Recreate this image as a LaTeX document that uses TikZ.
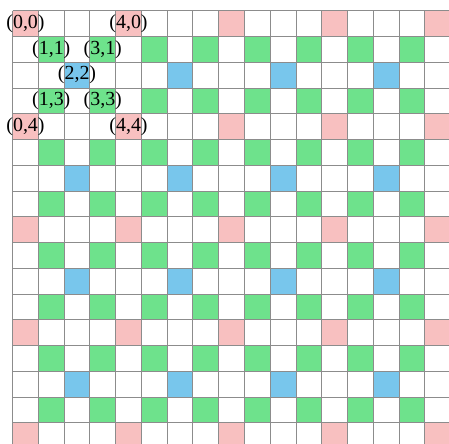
\documentclass[tikz,border=0pt]{standalone}
\usepackage{fontspec}
\setmainfont{Liberation Serif}
\usepackage{xcolor}
\definecolor{cellpink}{RGB}{248,192,192}
\definecolor{cellgreen}{RGB}{110,226,140}
\definecolor{cellblue}{RGB}{120,198,236}
\tikzset{
  pinkcell/.style={fill=cellpink},
  greencell/.style={fill=cellgreen},
  bluecell/.style={fill=cellblue},
  gridline/.style={draw=black!45, line width=0.5pt},
  coordlabel/.style={inner sep=0pt, font=\fontsize{11}{13}\selectfont}
}
\begin{document}
\begin{tikzpicture}[x=0.5cm, y=-0.5cm]
  \clip (-0.49,-0.415) rectangle (16.94,16.79);

  % coloured cells
  \foreach \i in {0,4,...,16}
    \foreach \j in {0,4,...,16}
      \fill[pinkcell] (\i,\j) rectangle ++(1,1);
  \foreach \i in {1,3,...,15}
    \foreach \j in {1,3,...,15}
      \fill[greencell] (\i,\j) rectangle ++(1,1);
  \foreach \i in {2,6,10,14}
    \foreach \j in {2,6,10,14}
      \fill[bluecell] (\i,\j) rectangle ++(1,1);

  % grid lines
  \foreach \k in {0,...,17} {
    \draw[gridline] (\k,0) -- (\k,17);
    \draw[gridline] (0,\k) -- (17,\k);
  }

  % labels
  \foreach \i/\j in {0/0,4/0,1/1,3/1,2/2,1/3,3/3,0/4,4/4}
    \node[coordlabel] (p\i\j) at (\i+0.5,\j+0.5) {(\i,\j)};
\end{tikzpicture}
\end{document}
